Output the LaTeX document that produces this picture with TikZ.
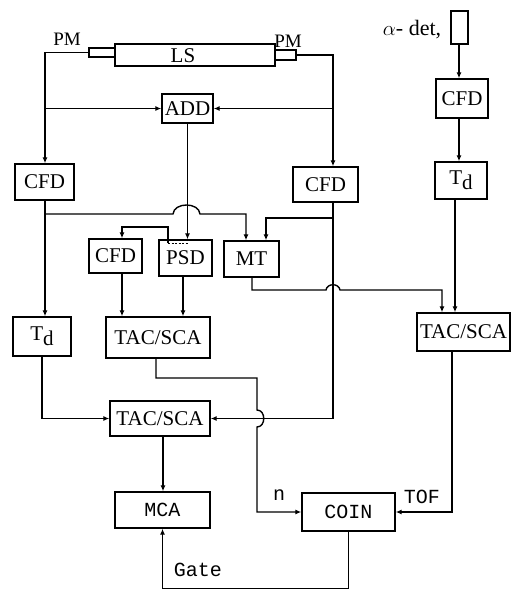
\documentclass[tikz,border=0pt]{standalone}
\usepackage{fontspec}
\setmainfont{Liberation Serif}
\newfontfamily\monof{Liberation Mono}
\usetikzlibrary{arrows.meta}
\begin{document}
\begin{tikzpicture}[x=1pt,y=-1pt, line width=1.4pt,
  box/.style={draw, rectangle, inner sep=0pt, font=\fontsize{21}{24}\selectfont},
  mbox/.style={box, font=\monof\fontsize{20}{24}\selectfont},
  arr/.style={-{Latex[length=6pt,width=5pt]}},
  lbl/.style={inner sep=0pt, font=\fontsize{19}{22}\selectfont},
  mlbl/.style={inner sep=0pt, font=\monof\fontsize{20}{24}\selectfont}]
\useasboundingbox (0,0) rectangle (511,590);
% tubes
\node[draw, inner sep=0pt, minimum width=26pt, minimum height=9pt] (lpm) at (102,52.5) {};
\node[draw, inner sep=0pt, minimum width=160pt, minimum height=22pt] (LS) at (195,55) {};
\node[inner sep=0pt, font=\fontsize{21}{24}\selectfont] (LStxt) at (183,56) {LS};
\node[draw, inner sep=0pt, minimum width=21pt, minimum height=10pt] (rpm) at (285.5,55) {};
\node[lbl] (pmL) at (67,39) {PM};
\node[lbl] (pmR) at (288,41) {PM};
\node[draw, inner sep=0pt, minimum width=17pt, minimum height=33pt] (det) at (459.5,27.5) {};
\node[inner sep=0pt, font=\fontsize{22}{24}\selectfont] (detl) at (412,30) {$\alpha$- det,};
% boxes
\node[box, minimum width=51pt, minimum height=29pt] (ADD) at (187.5,108.5) {ADD};
\node[box, minimum width=59pt, minimum height=36pt] (LCFD) at (44.5,182) {CFD};
\node[box, minimum width=65pt, minimum height=35pt] (RCFD) at (325.5,184.5) {CFD};
\node[box, minimum width=52pt, minimum height=39pt] (ACFD) at (462,98.5) {CFD};
\node[box, minimum width=52pt, minimum height=37pt] (RTd) at (461,180.5) {T\raisebox{-5pt}{d}};
\node[box, minimum width=53pt, minimum height=34pt] (sCFD) at (115.5,256) {CFD};
\node[box, minimum width=53pt, minimum height=36pt] (PSD) at (185.5,258) {PSD};
\node[box, minimum width=55pt, minimum height=36pt] (MT) at (251.5,259) {MT};
\node[box, minimum width=58pt, minimum height=39pt] (LTd) at (42,336.5) {T\raisebox{-5pt}{d}};
\node[box, minimum width=104pt, minimum height=41pt] (MTAC) at (158,337.5) {TAC/SCA};
\node[box, minimum width=93pt, minimum height=38pt] (RTAC) at (463.5,332) {TAC/SCA};
\node[box, minimum width=100pt, minimum height=35pt] (LTAC) at (160,418.5) {TAC/SCA};
\node[mbox, minimum width=95pt, minimum height=36pt] (MCA) at (162.5,510) {MCA};
\node[mbox, minimum width=93pt, minimum height=38pt] (COIN) at (348.5,512) {COIN};
\node[mlbl] (nl) at (279,495) {n};
\node[mlbl] (tofl) at (422,497) {TOF};
\node[mlbl] (gatel) at (198,570) {Gate};
% column helpers
\coordinate (cL) at (45,0);
\coordinate (cR) at (333,0);
\coordinate (cS) at (122,0);
\coordinate (cP) at (183,0);
\coordinate (cM1) at (246,0);
\coordinate (cM2) at (266,0);
\coordinate (cMo) at (252,0);
\coordinate (cRT1) at (442,0);
\coordinate (cAl) at (459,0);
\coordinate (cAl2) at (455,0);
\coordinate (cRo) at (452,0);
\coordinate (cT) at (163,0);
\coordinate (cN) at (257,0);
\coordinate (cMo2) at (156,0);
% connectors
\draw[arr] (lpm.west) -| (cL |- LCFD.north);
\coordinate (jL) at (cL |- ADD.west);
\draw[arr] (jL) -- (ADD.west);
\draw[arr] (rpm.east) -| (cR |- RCFD.north);
\coordinate (jR) at (cR |- ADD.east);
\draw[arr] (jR) -- (ADD.east);
\draw[arr] (ADD.south) -- (ADD.south |- PSD.north);
\coordinate (pt1) at (168,243);
\draw[arr] (pt1) -- (168,227) -| (cS |- sCFD.north);
\draw[dash pattern=on 2pt off 1.5pt, line width=1pt] (pt1) -- (ADD.south |- pt1);
\coordinate (h1) at (45,214);
\draw[arr] (h1) -- (173,214) .. controls (174,202) and (199,202) .. (200,214) -- (246,214) -- (cM1 |- MT.north);
\coordinate (h2) at (333,218);
\draw[arr] (h2) -- (266,218) -- (cM2 |- MT.north);
\draw[arr] (cL |- LCFD.south) -- (cL |- LTd.north);
\draw[arr] (cS |- sCFD.south) -- (cS |- MTAC.north);
\draw[arr] (cP |- PSD.south) -- (cP |- MTAC.north);
\draw[arr] (cMo |- MT.south) -- (252,290) -- (326,290) .. controls (327,283) and (339,283) .. (340,290) -- (442,290) -- (cRT1 |- RTAC.north);
\draw[arr] (cAl |- det.south) -- (cAl |- ACFD.north);
\draw[arr] (cAl |- ACFD.south) -- (cAl |- RTd.north);
\draw[arr] (cAl2 |- RTd.south) -- (cAl2 |- RTAC.north);
\draw[arr] (cR |- RCFD.south) |- (LTAC.east);
\draw[arr] (cMo2 |- MTAC.south) -- (156,378) -- (257,378) -- (257,410) .. controls (266,410) and (266,427) .. (257,427) -- (cN |- COIN.west) -- (COIN.west);
\draw[arr] (LTd.south) |- (LTAC.west);
\draw[arr] (cT |- LTAC.south) -- (cT |- MCA.north);
\draw[arr] (cRo |- RTAC.south) |- (COIN.east);
\draw[arr] (COIN.south) -- ++(0,57) -| (MCA.south);
\end{tikzpicture}
\end{document}
